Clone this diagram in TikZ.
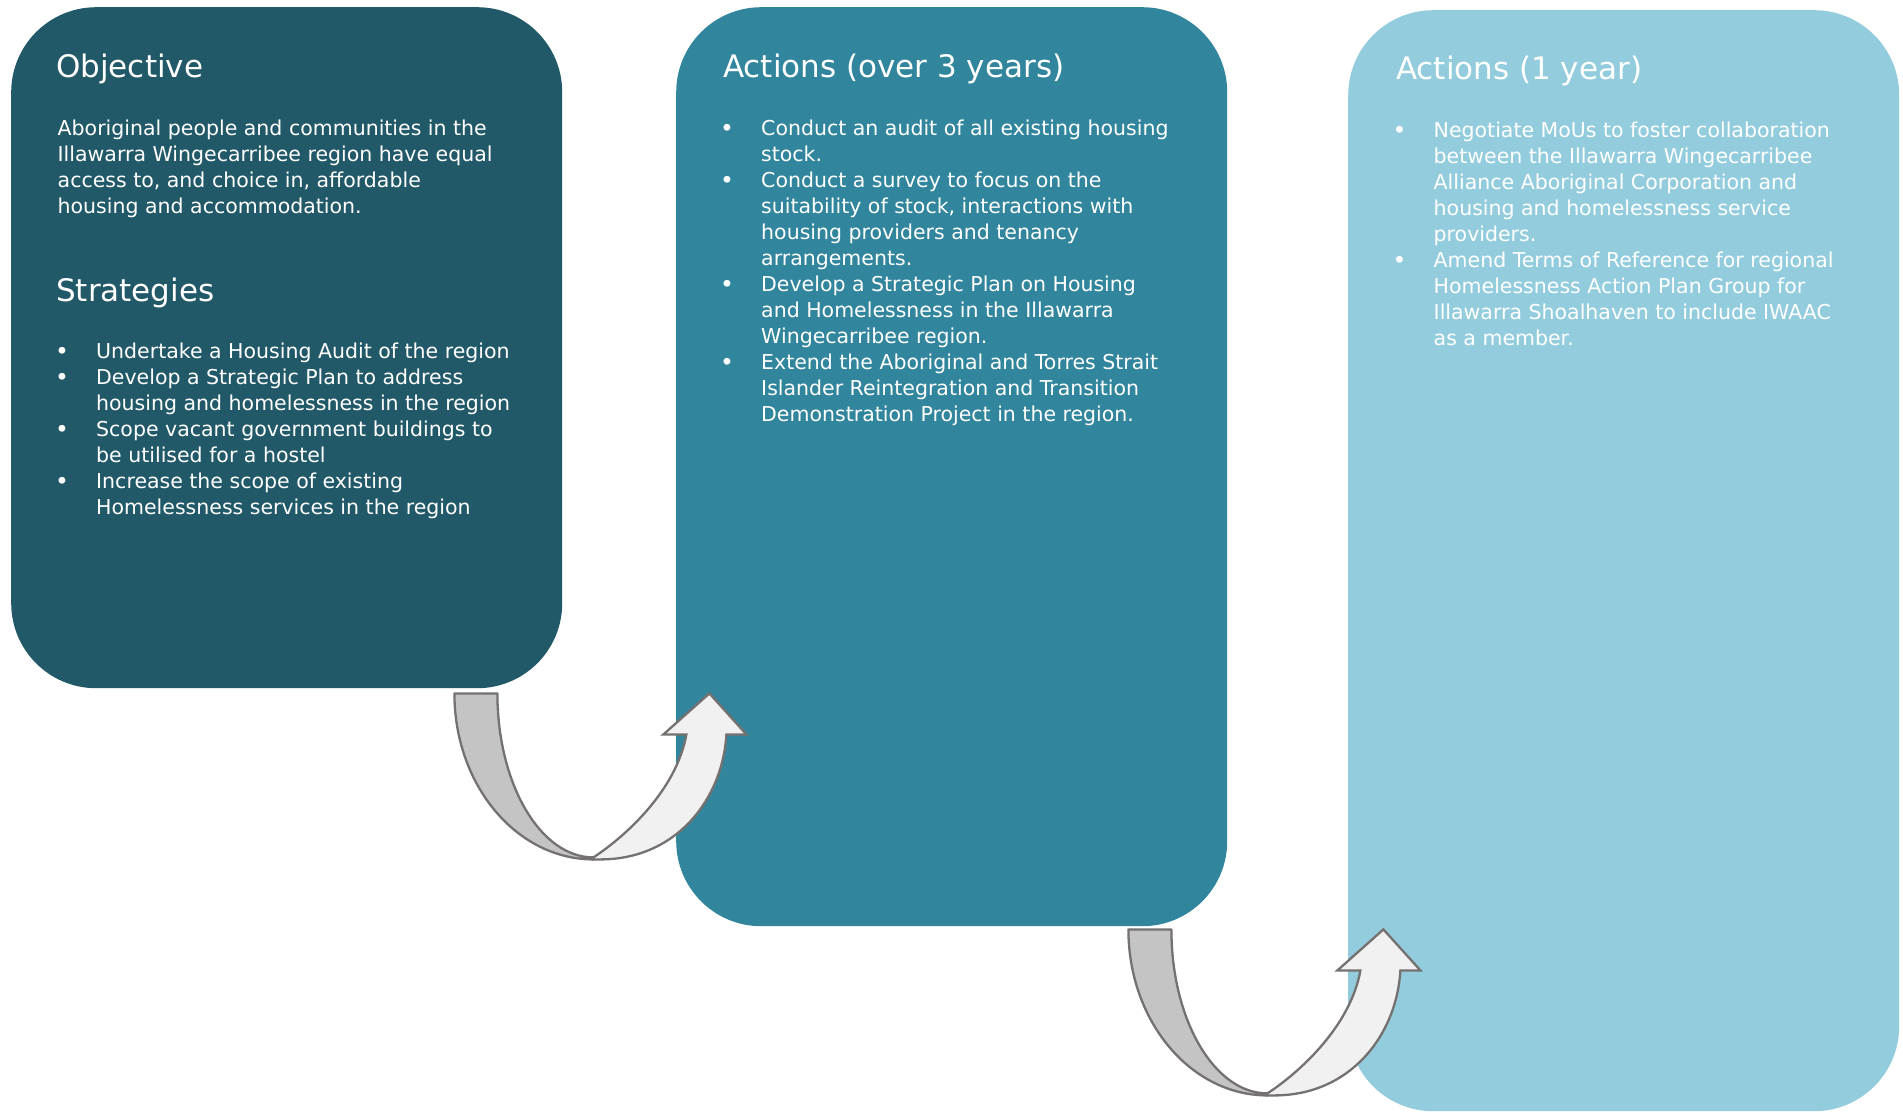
\documentclass[tikz,border=0pt]{standalone}
\usepackage{fontspec}
\setmainfont{DejaVu Sans}
\usetikzlibrary{calc}

\definecolor{boxA}{HTML}{215968}
\definecolor{boxB}{HTML}{31859C}
\definecolor{boxC}{HTML}{93CDDD}
\definecolor{arrowline}{HTML}{767171}
\definecolor{arrowback}{HTML}{C4C4C4}
\definecolor{arrowfront}{HTML}{F1F1F1}

\newcommand{\headfont}{\fontsize{31}{36}\selectfont}
\newcommand{\bodyfont}{\fontsize{20.5}{26}\selectfont}
% bullet glyph, a little larger than the running text
\newcommand{\bulletmark}{\hspace{-1pt}\raisebox{-1pt}{\fontsize{23.5}{26}\selectfont•}}
% one bulleted paragraph with a hanging indent for its continuation lines
\newcommand{\pitem}[1]{\par\hangindent=40pt\hangafter=1\noindent\makebox[40pt][l]{\bulletmark}#1\par}

\begin{document}
\begin{tikzpicture}[x=1pt,y=-1pt,
  panel/.style={rounded corners=85pt, inner sep=0pt, anchor=north west, draw=none, minimum width=551pt},
  head/.style={text=white, inner sep=0pt, anchor=base west, font=\headfont},
  body/.style={text=white, inner sep=0pt, anchor=base west, font=\bodyfont},
  band/.style={draw=arrowline, line width=2.3pt},
  uturn/.pic={
    % back half: tail dropping down into the bend
    \draw[band, fill=arrowback, line join=round]
      (0,0) .. controls (0,91.7) and (62.2,166) .. (139,166)
      -- (139,164) .. controls (86,164) and (43,90.6) .. (43,0) -- cycle;
    % front half: rising shaft with the arrowhead
    \draw[band, fill=arrowfront, line join=miter]
      (139,164) .. controls (171,143) and (222,97) .. (232,41)
      -- (209,41) -- (255,0) -- (292,41) -- (272,41)
      .. controls (268,107) and (221,166) .. (146,166) -- (139,166) -- cycle;
  }
]
\useasboundingbox (0,0) rectangle (1903,1112);
\fill[white] (0,0) rectangle (1903,1112);

% panels
\node[panel, fill=boxA, minimum height=681pt] (obj) at (11,7) {};
\node[panel, fill=boxB, minimum height=919pt] (act3) at (676,7) {};
\node[panel, fill=boxC, minimum height=1101pt] (act1) at (1348,10) {};

% connecting U-turn arrows
\pic at ($(obj.south east)+(-108,5)$) {uturn};
\pic at ($(act3.south east)+(-99,3)$) {uturn};

% objective and strategies
\node[head] (objhead) at (56,77) {Objective};
\node[body] (objtext) at (57.5,135) {\parbox[t]{520pt}{\noindent
Aboriginal people and communities in the\newline
Illawarra Wingecarribee region have equal\newline
access to, and choice in, affordable\newline
housing and accommodation.}};
\node[head] (strathead) at (56,301) {Strategies};
\node[body] (strattext) at (56,358) {\parbox[t]{520pt}{
\pitem{Undertake a Housing Audit of the region}
\pitem{Develop a Strategic Plan to address\newline housing and homelessness in the region}
\pitem{Scope vacant government buildings to\newline be utilised for a hostel}
\pitem{Increase the scope of existing\newline Homelessness services in the region}}};

% three-year actions
\node[head] (act3head) at (723,77) {Actions (over 3 years)};
\node[body] (act3text) at (721,135) {\parbox[t]{520pt}{
\pitem{Conduct an audit of all existing housing\newline stock.}
\pitem{Conduct a survey to focus on the\newline suitability of stock, interactions with\newline housing providers and tenancy\newline arrangements.}
\pitem{Develop a Strategic Plan on Housing\newline and Homelessness in the Illawarra\newline Wingecarribee region.}
\pitem{Extend the Aboriginal and Torres Strait\newline Islander Reintegration and Transition\newline Demonstration Project in the region.}}};

% one-year actions
\node[head] (act1head) at (1396,79) {Actions (1 year)};
\node[body] (act1text) at (1393.5,137.3) {\parbox[t]{520pt}{
\pitem{Negotiate MoUs to foster collaboration\newline between the Illawarra Wingecarribee\newline Alliance Aboriginal Corporation and\newline housing and homelessness service\newline providers.}
\pitem{Amend Terms of Reference for regional\newline Homelessness Action Plan Group for\newline Illawarra Shoalhaven to include IWAAC\newline as a member.}}};
\end{tikzpicture}
\end{document}
